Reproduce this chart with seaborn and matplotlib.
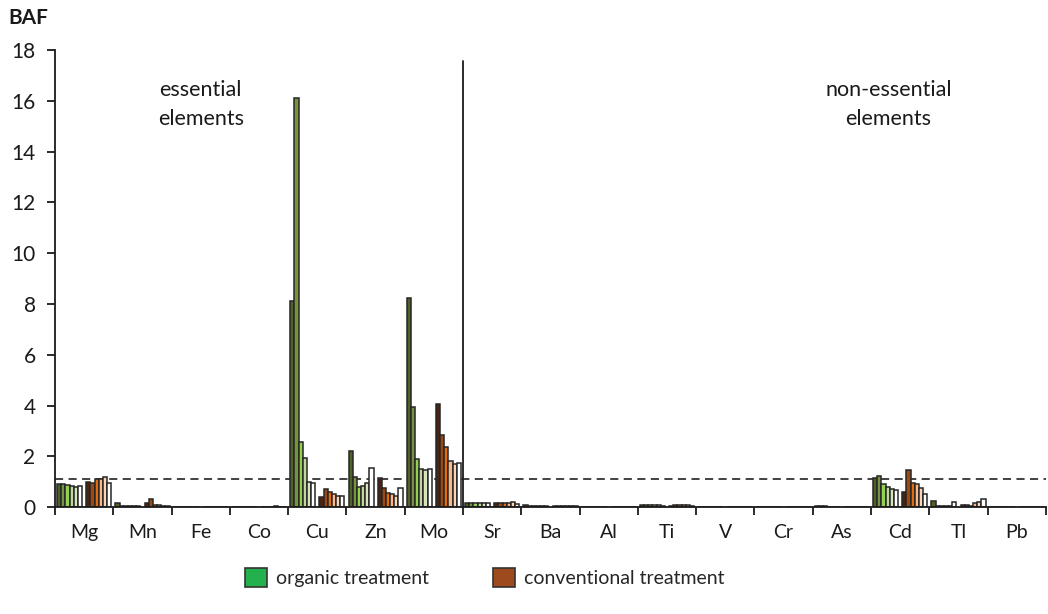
import numpy as np
import pandas as pd
import seaborn as sns
import matplotlib.pyplot as plt
from matplotlib.patches import Patch

# Bioaccumulation factors per element, six samples per treatment
elements = ["Mg", "Mn", "Fe", "Co", "Cu", "Zn", "Mo", "Sr", "Ba", "Al",
            "Ti", "V", "Cr", "As", "Cd", "Tl", "Pb"]

organic_baf = [
    [0.93, 0.92, 0.87, 0.82, 0.79, 0.82],   # Mg
    [0.15, 0.05, 0.04, 0.03, 0.03, 0.03],   # Mn
    [0.01, 0.01, 0.01, 0.01, 0.01, 0.01],   # Fe
    [0.02, 0.02, 0.01, 0.01, 0.01, 0.01],   # Co
    [8.13, 16.12, 2.58, 1.92, 1.00, 0.97],  # Cu
    [2.22, 1.20, 0.78, 0.84, 0.97, 1.56],   # Zn
    [8.25, 3.95, 1.90, 1.51, 1.46, 1.51],   # Mo
    [0.17, 0.17, 0.17, 0.17, 0.17, 0.16],   # Sr
    [0.08, 0.06, 0.06, 0.05, 0.05, 0.05],   # Ba
    [0.02, 0.01, 0.01, 0.01, 0.01, 0.01],   # Al
    [0.09, 0.08, 0.07, 0.07, 0.07, 0.06],   # Ti
    [0.01, 0.01, 0.01, 0.01, 0.01, 0.01],   # V
    [0.01, 0.01, 0.01, 0.01, 0.01, 0.01],   # Cr
    [0.04, 0.03, 0.03, 0.02, 0.02, 0.02],   # As
    [1.15, 1.21, 0.90, 0.81, 0.73, 0.66],   # Cd
    [0.24, 0.05, 0.04, 0.04, 0.06, 0.20],   # Tl
    [0.01, 0.01, 0.01, 0.01, 0.01, 0.01],   # Pb
]

conventional_baf = [
    [1.00, 0.96, 1.09, 1.12, 1.20, 0.95],   # Mg
    [0.15, 0.34, 0.10, 0.08, 0.05, 0.04],   # Mn
    [0.01, 0.01, 0.01, 0.01, 0.01, 0.01],   # Fe
    [0.01, 0.02, 0.02, 0.03, 0.02, 0.02],   # Co
    [0.40, 0.72, 0.60, 0.50, 0.43, 0.43],   # Cu
    [1.14, 0.74, 0.57, 0.52, 0.44, 0.75],   # Zn
    [4.07, 2.84, 2.38, 1.81, 1.68, 1.73],   # Mo
    [0.17, 0.17, 0.18, 0.18, 0.20, 0.12],   # Sr
    [0.05, 0.05, 0.06, 0.05, 0.06, 0.05],   # Ba
    [0.01, 0.01, 0.01, 0.01, 0.01, 0.01],   # Al
    [0.06, 0.07, 0.08, 0.07, 0.07, 0.05],   # Ti
    [0.01, 0.01, 0.01, 0.01, 0.01, 0.01],   # V
    [0.01, 0.01, 0.01, 0.01, 0.01, 0.01],   # Cr
    [0.01, 0.01, 0.01, 0.01, 0.01, 0.01],   # As
    [0.60, 1.45, 0.97, 0.90, 0.77, 0.51],   # Cd
    [0.10, 0.07, 0.06, 0.18, 0.19, 0.32],   # Tl
    [0.01, 0.01, 0.01, 0.01, 0.01, 0.01],   # Pb
]

organic_colors = ["#4f6228", "#77933c", "#92d050", "#c3d69b", "#d7e4bd", "#ffffff"]
conventional_colors = ["#4a2410", "#9a4a14", "#e46c0a", "#f9b98a", "#fcd5b5", "#ffffff"]

threshold = 1.12
y_ticks = list(range(0, 19, 2))

# Long-format table: one row per bar; an empty "gap" level separates treatments
organic_levels = [f"O{i + 1}" for i in range(6)]
conventional_levels = [f"C{i + 1}" for i in range(6)]
hue_order = organic_levels + ["gap"] + conventional_levels

rows = []
for el, o_vals, c_vals in zip(elements, organic_baf, conventional_baf):
    for lvl, v in zip(organic_levels, o_vals):
        rows.append({"element": el, "sample": lvl, "baf": v})
    for lvl, v in zip(conventional_levels, c_vals):
        rows.append({"element": el, "sample": lvl, "baf": v})
df = pd.DataFrame(rows)

palette = dict(zip(organic_levels, organic_colors))
palette.update(dict(zip(conventional_levels, conventional_colors)))
palette["gap"] = "#ffffff"

sns.set_theme(style="white")
plt.rcParams["font.family"] = ["Lato", "DejaVu Sans"]

fig = plt.figure(figsize=(10.48, 6.14), dpi=100)
ax = fig.add_axes([0.0525, 0.174, 0.9455, 0.7446])

sns.barplot(data=df, x="element", y="baf", hue="sample", order=elements,
            hue_order=hue_order, palette=palette, width=13 / 14,
            edgecolor="#262626", linewidth=1.1, saturation=1.0,
            errorbar=None, legend=False, ax=ax)

ax.set_xlim(-0.5, len(elements) - 0.5)
ax.set_ylim(0, 18)
ax.set_yticks(y_ticks)
ax.set_xlabel("")
ax.set_ylabel("")

for side in ("top", "right"):
    ax.spines[side].set_visible(False)
for side in ("left", "bottom"):
    ax.spines[side].set_color("#1a1a1a")
    ax.spines[side].set_linewidth(1.3)

# Category labels centred, tick marks on group boundaries
ax.set_xticks(np.arange(len(elements)))
ax.set_xticklabels(elements)
ax.set_xticks(np.arange(len(elements) + 1) - 0.5, minor=True)
ax.tick_params(axis="x", which="major", length=0, pad=12, labelsize=14, colors="#1a1a1a")
ax.tick_params(axis="x", which="minor", length=6, width=1.3, color="#1a1a1a", direction="out", bottom=True)
ax.tick_params(axis="y", length=6, width=1.3, color="#1a1a1a", direction="out", left=True,
               labelsize=15, pad=8, labelcolor="#1a1a1a")

# Threshold line and separator between element groups
ax.axhline(threshold, color="#333333", lw=1.3, linestyle=(0, (4.5, 3)), zorder=0.5)
ax.plot([6.5, 6.5], [0, 17.55], color="#1a1a1a", lw=1.3, clip_on=False)

ax.text(2.0, 15.85, "essential\nelements", ha="center", va="center",
        fontsize=15.5, color="#1a1a1a", linespacing=1.6)
ax.text(13.8, 15.85, "non-essential\nelements", ha="center", va="center",
        fontsize=15.5, color="#1a1a1a", linespacing=1.6)

fig.text(8 / 1048, 1 - 18 / 614, "BAF", ha="left", va="center",
         fontsize=15, fontweight="bold", color="#1a1a1a")

# Treatment keys below the axes
legend_kw = dict(loc="center left", frameon=False, fontsize=14, borderpad=0,
                 borderaxespad=0, handlelength=1.15, handleheight=1.15,
                 handletextpad=0.45)
fig.legend([Patch(facecolor="#22b14c", edgecolor="#333333", linewidth=1.2)],
           ["organic treatment"], bbox_to_anchor=(245 / 1048, 0.059), **legend_kw)
fig.legend([Patch(facecolor="#9c4a1e", edgecolor="#333333", linewidth=1.2)],
           ["conventional treatment"], bbox_to_anchor=(493 / 1048, 0.059), **legend_kw)

fig.savefig("out.png", dpi=100, facecolor="white")
